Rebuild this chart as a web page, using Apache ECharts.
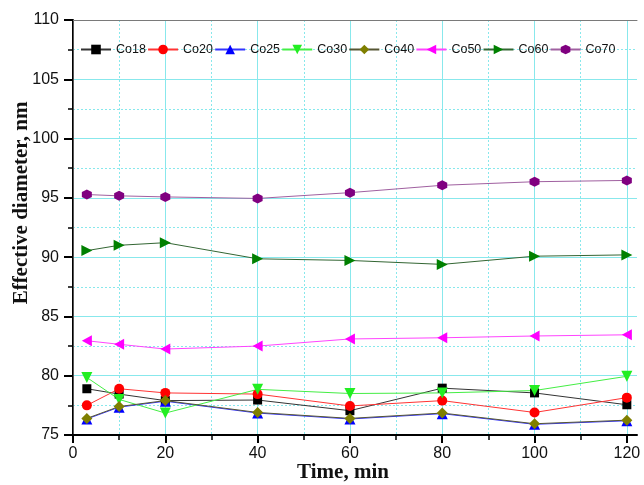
<!DOCTYPE html>
<html>
<head>
<meta charset="utf-8">
<script src="https://cdn.jsdelivr.net/npm/echarts@6/dist/echarts.min.js"></script>
<style>
  html, body { margin: 0; padding: 0; background: #ffffff; }
  #chart { width: 644px; height: 485px; }
</style>
</head>
<body>
<div id="chart"></div>
<script>
// Sampling times (min)
const times = [3, 10, 20, 40, 60, 80, 100, 120];
// Major tick values on the time axis
const xTicks = [0, 20, 40, 60, 80, 100, 120];

// Effective diameter (nm) for each sample
const co18 = [78.9, 78.45, 77.9, 77.95, 77.05, 78.95, 78.55, 77.55];
const co20 = [77.5, 78.9, 78.55, 78.45, 77.45, 77.9, 76.9, 78.15];
const co25 = [76.35, 77.35, 77.85, 76.85, 76.35, 76.8, 75.9, 76.2];
const co30 = [79.85, 78.0, 76.85, 78.85, 78.5, 78.55, 78.75, 79.95];
const co40 = [76.4, 77.4, 77.9, 76.9, 76.4, 76.85, 75.95, 76.25];
const co50 = [82.95, 82.65, 82.25, 82.5, 83.1, 83.2, 83.35, 83.45];
const co60 = [90.55, 91.0, 91.22, 89.86, 89.72, 89.39, 90.08, 90.19];
const co70 = [95.28, 95.17, 95.08, 94.95, 95.44, 96.06, 96.36, 96.47];

const seriesNames = ['Co18', 'Co20', 'Co25', 'Co30', 'Co40', 'Co50', 'Co60', 'Co70'];
const seriesValues = [co18, co20, co25, co30, co40, co50, co60, co70];

// Marker look per series
const HEX = 'path://M5,0 L9.33,2.5 L9.33,7.5 L5,10 L0.67,7.5 L0.67,2.5 Z';
const DOWN = 'path://M0,0 L10,0 L5,9 Z';
const LEFT = 'path://M10,0 L0,5 L10,10 Z';
const RIGHT = 'path://M0,0 L10,5 L0,10 Z';
const styles = [
  { color: '#000000', line: '#333333', symbol: 'rect', size: 9 },
  { color: '#ff0000', line: '#ff3333', symbol: 'circle', size: 10 },
  { color: '#0000ff', line: '#3333ff', symbol: 'triangle', size: 11 },
  { color: '#22ee22', line: '#44ee44', symbol: DOWN, size: 11 },
  { color: '#7f7f00', line: '#555533', symbol: 'diamond', size: 11 },
  { color: '#ff00ff', line: '#ff44ff', symbol: LEFT, size: [10, 11] },
  { color: '#008000', line: '#336633', symbol: RIGHT, size: [11, 11] },
  { color: '#800080', line: '#a060a0', symbol: HEX, size: 10 }
];

const cyan = '#88e8ec';
const font = '"Liberation Sans", Arial, sans-serif';
const titleFont = 'bold 21px "Liberation Serif", "Times New Roman", serif';

const chart = echarts.init(document.getElementById('chart'), null, { renderer: 'canvas' });

chart.setOption({
  animation: false,
  backgroundColor: '#ffffff',
  grid: { left: 73, right: 7, top: 20, bottom: 50 },
  legend: {
    left: 80,
    top: 43,
    padding: 0,
    itemWidth: 30,
    itemHeight: 12,
    itemGap: 1.2,
    data: seriesNames,
    textStyle: { fontSize: 12.5, fontFamily: font, color: '#111111' }
  },
  xAxis: [
    {
      type: 'value',
      position: 'bottom',
      min: 0,
      max: 122.2,
      interval: 20,
      axisLine: { show: true, onZero: false, lineStyle: { color: '#000000', width: 2 } },
      axisTick: { show: true, inside: false, length: 8, customValues: xTicks, lineStyle: { color: '#000000', width: 2 } },
      minorTick: { show: true, splitNumber: 2, length: 5, lineStyle: { color: '#000000', width: 1.5 } },
      axisLabel: { customValues: xTicks, fontSize: 16, fontFamily: font, color: '#111111', margin: 11 },
      splitLine: { show: true, lineStyle: { color: cyan, width: 1 } },
      minorSplitLine: { show: true, lineStyle: { color: cyan, width: 1, type: [2, 2] } }
    },
    {
      type: 'value',
      position: 'top',
      min: 0,
      max: 122.2,
      axisLine: { show: true, lineStyle: { color: '#7a7a7a', width: 1 } },
      axisTick: { show: false },
      axisLabel: { show: false },
      splitLine: { show: false }
    }
  ],
  yAxis: [
    {
      type: 'value',
      position: 'left',
      min: 75,
      max: 110,
      interval: 5,
      axisLine: { show: true, onZero: false, lineStyle: { color: '#000000', width: 2 } },
      axisTick: { show: true, inside: false, length: 9, lineStyle: { color: '#000000', width: 2 } },
      minorTick: { show: true, splitNumber: 2, length: 5, lineStyle: { color: '#000000', width: 1.5 } },
      axisLabel: { fontSize: 16, fontFamily: font, color: '#111111', margin: 14 },
      splitLine: { show: true, lineStyle: { color: cyan, width: 1 } },
      minorSplitLine: { show: true, lineStyle: { color: cyan, width: 1, type: [2, 2] } }
    },
    {
      type: 'value',
      position: 'right',
      min: 75,
      max: 110,
      axisLine: { show: true, lineStyle: { color: '#555555', width: 1 } },
      axisTick: { show: false },
      axisLabel: { show: false },
      splitLine: { show: false }
    }
  ],
  graphic: [
    {
      type: 'text',
      x: 343,
      y: 473,
      style: {
        text: 'Time, min',
        font: titleFont,
        fill: '#111111',
        align: 'center',
        verticalAlign: 'middle'
      }
    },
    {
      type: 'text',
      x: 22,
      y: 203,
      rotation: Math.PI / 2,
      style: {
        text: 'Effective diameter, nm',
        font: titleFont,
        fill: '#111111',
        align: 'center',
        verticalAlign: 'middle'
      }
    }
  ],
  series: seriesNames.map((name, k) => ({
    name: name,
    type: 'line',
    xAxisIndex: 0,
    yAxisIndex: 0,
    data: times.map((t, i) => [t, seriesValues[k][i]]),
    symbol: styles[k].symbol,
    symbolSize: styles[k].size,
    showAllSymbol: true,
    itemStyle: { color: styles[k].color, borderWidth: 0 },
    lineStyle: { color: styles[k].line, width: 1 },
    emphasis: { disabled: true }
  }))
});
</script>
</body>
</html>
